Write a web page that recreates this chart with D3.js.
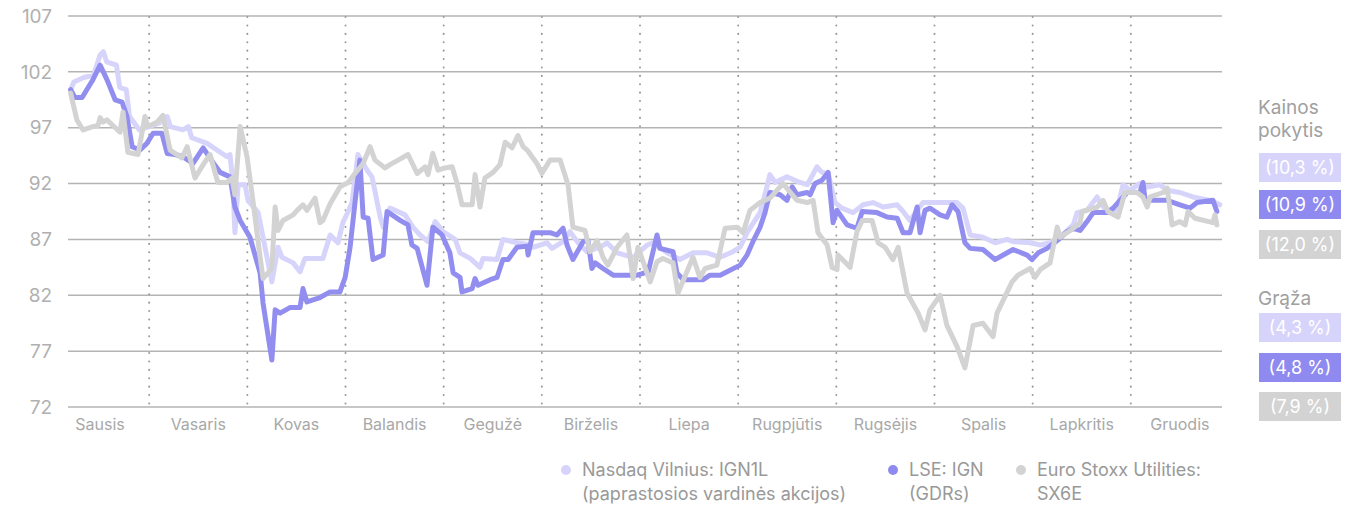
<!DOCTYPE html>
<html>
<head>
<meta charset="utf-8">
<script src="https://cdn.jsdelivr.net/npm/d3@7"></script>
<style>
  body { margin: 0; background: #fff; }
  svg { font-family: Inter, "Noto Sans", sans-serif; }
</style>
</head>
<body>
<svg id="chart" width="1357" height="507"></svg>
<script>
// months and y ticks
var months = ["Sausis","Vasaris","Kovas","Balandis","Gegužė","Birželis","Liepa","Rugpjūtis","Rugsėjis","Spalis","Lapkritis","Gruodis"];
var yTicks = [72, 77, 82, 87, 92, 97, 102, 107];

// [day (30 per month), value]
var nasdaq = [[6,100.4],[7,101.1],[10,101.5],[13,101.7],[15,103.5],[16,103.8],[17,102.9],[20,102.6],[21,100.6],[23,100.4],[24,98.0],[27,96.8],[30,97.1],[33,97.4],[35.5,98.0],[36.5,97.1],[40.3,96.8],[42,97.1],[43,96.1],[47.7,95.6],[50.7,95.0],[53.8,94.4],[54.7,94.6],[55.6,92.0],[56.2,87.6],[57.2,91.9],[59.3,91.9],[60.2,90.5],[63.3,89.4],[67.5,83.2],[69.4,86.3],[70.6,85.4],[74,84.9],[76.1,84.1],[77.6,85.3],[83.1,85.3],[85.3,87.4],[87.7,86.7],[89.2,88.5],[90.5,89.3],[92,90.3],[93.8,94.6],[96.6,93.2],[98.1,92.6],[100.6,89.0],[101.5,88.1],[103.6,89.8],[108.2,89.2],[110.6,88.1],[112.8,87.4],[115.2,86.8],[117.4,88.6],[119.8,87.7],[123.5,87.0],[125,85.8],[128.1,85.3],[131.1,84.5],[132,85.3],[136.3,85.2],[138.1,87.0],[142.4,86.7],[146.4,86.5],[147.3,86.3],[151.6,86.7],[153.1,86.2],[156.5,86.8],[158.6,87.7],[161.1,86.7],[163.8,85.9],[167.8,86.3],[169.9,86.7],[173,85.8],[177.9,85.4],[182.2,86.5],[184,86.7],[188.3,85.8],[192.2,85.2],[196.2,85.8],[200.5,85.8],[204.5,85.4],[208.4,85.9],[210.6,86.3],[212.7,87.6],[215.8,89.0],[216.7,89.4],[218.8,91.7],[219.7,92.8],[221.3,92.1],[224.9,92.6],[228.9,92.1],[231.1,91.9],[234.1,93.5],[235.6,93.0],[237.5,92.9],[239.6,90.3],[241.7,89.8],[245.1,89.4],[248.2,90.1],[251.2,90.3],[254.3,89.9],[258.6,90.1],[260.4,89.5],[262.5,88.7],[264.7,89.6],[266.5,90.3],[276.9,90.3],[278.7,89.8],[280.9,87.4],[284.8,87.2],[288.5,86.7],[292.2,87.0],[294,86.8],[299.2,86.7],[302.3,86.5],[305.3,86.7],[308.4,87.2],[312.4,88.3],[313.6,89.4],[316.6,89.6],[319.7,90.8],[320.6,90.3],[322.7,89.5],[325.8,89.6],[327.6,91.9],[329.8,91.4],[332.8,92.0],[335,91.7],[338.9,91.9],[341.1,91.4],[345,91.2],[349,90.8],[354.2,90.5],[357.2,90.1]];

var lse = [[6,100.4],[7.3,99.7],[9.5,99.7],[12.8,101.3],[15,102.6],[17.1,101.3],[19.6,99.5],[21.7,99.3],[23.2,98.0],[24.8,95.3],[27.2,95.0],[29.3,95.6],[31.2,96.5],[33.9,96.5],[35.5,94.7],[37.9,94.6],[40.3,94.4],[43.4,93.8],[46.5,95.2],[49.5,93.9],[51.7,93.0],[54.7,92.6],[56.2,89.9],[57.8,88.7],[60.8,87.2],[63.9,84.0],[64.8,81.3],[67.5,76.2],[68.5,80.7],[70,80.4],[73,80.9],[76.1,80.9],[77,82.6],[78.2,81.4],[82.2,81.8],[85.3,82.3],[88.3,82.3],[89.9,83.6],[91.4,86.3],[92.9,90.3],[94.4,94.1],[95.4,89.0],[96.9,88.9],[98.4,85.2],[101.5,85.6],[102.7,89.5],[106.7,88.7],[109.1,88.3],[110.3,86.5],[111.9,86.2],[114.9,82.9],[116.7,88.1],[119.5,87.4],[121.9,85.8],[122.9,84.0],[125,83.6],[125.6,82.3],[128.7,82.6],[129.6,83.5],[130.5,82.9],[134.2,83.4],[136.3,83.6],[138.1,85.2],[139.7,85.2],[142.4,86.3],[145.5,86.4],[145.8,85.6],[147.3,87.6],[152.5,87.6],[154.6,87.4],[156.5,88.0],[157.7,86.5],[159.5,85.2],[162.6,86.8],[164.1,86.9],[165.3,84.4],[166.3,84.9],[168.7,84.4],[171.8,83.8],[179.1,83.8],[182.5,84.1],[185.2,87.4],[186.1,86.2],[190.1,85.9],[191.3,84.0],[193.2,83.4],[199.3,83.4],[201.4,83.8],[204.5,83.8],[206.6,84.1],[210.6,84.7],[212.7,85.6],[214.5,86.8],[216.7,88.1],[218.2,89.4],[219.7,91.2],[222.8,91.0],[224.9,90.5],[226.5,91.7],[228,91.0],[231.1,91.2],[232,91.0],[233.5,92.0],[235.6,92.3],[237.5,93.0],[239,88.5],[240.2,89.6],[243.3,88.3],[246.3,88.0],[247.9,89.5],[252.4,89.4],[255.5,89.0],[258.6,88.9],[260.4,87.6],[262.5,87.6],[264.7,89.9],[265.6,87.6],[267.1,89.6],[268.6,89.8],[271.7,89.2],[273.8,89.0],[275.4,90.1],[277.2,89.5],[279.3,86.7],[280.9,86.2],[284.8,86.1],[288.5,85.2],[291,85.6],[294,86.1],[298.3,85.6],[299.8,85.2],[301.7,85.8],[304.4,86.2],[307.5,86.9],[310.5,87.7],[312.4,88.0],[314.5,87.8],[316.6,88.6],[318.5,89.4],[322.7,89.4],[324.6,89.8],[326.7,90.5],[328.9,91.2],[332.8,91.2],[333.7,92.1],[334.4,90.5],[341.1,90.5],[345,90.1],[348.1,89.8],[350.2,90.3],[355.1,90.5],[356.3,89.5]];

var sx6e = [[6,100.1],[7.9,97.7],[9.8,96.8],[12.8,97.1],[14.4,97.2],[15,97.9],[15.9,97.5],[17.1,97.7],[18.9,97.2],[21.1,96.6],[22,98.4],[23.5,94.8],[26.6,94.6],[28.7,98.0],[29.6,97.1],[32.4,97.5],[34.2,98.1],[36.4,95.0],[40,94.3],[41.6,95.3],[44,92.5],[46.5,93.7],[48.6,94.6],[51,92.1],[53.8,92.1],[55.3,92.5],[56.2,91.0],[57.8,97.1],[59.9,94.4],[61.7,90.5],[63.9,85.4],[64.8,83.5],[67.5,84.4],[68.5,89.9],[69.4,87.8],[70.9,88.7],[74,89.2],[75.2,89.6],[77,90.1],[78.2,89.6],[80.7,90.7],[82.2,88.5],[83.1,88.7],[85.3,90.2],[88.3,91.7],[90.8,92.1],[92.9,92.9],[95.4,93.8],[97.5,95.3],[99,94.1],[102.1,93.4],[103.6,93.7],[106.1,94.1],[109.1,94.6],[111.9,92.9],[114.3,93.5],[115.2,92.8],[116.7,94.7],[118.3,93.2],[120.4,93.4],[122.6,93.5],[124.1,92.0],[125.6,90.1],[128.7,90.1],[129.6,92.8],[131.1,89.9],[132.6,92.5],[135.1,93.0],[137.2,93.7],[138.8,95.7],[140.9,95.2],[142.7,96.3],[144.3,95.3],[145.5,95.0],[148.5,93.8],[150,92.9],[152.5,94.1],[155.6,94.1],[158,91.9],[159.5,88.1],[163.2,87.8],[164.7,85.9],[166.9,86.9],[168.7,85.4],[170.2,84.7],[173,86.3],[176,87.4],[177.9,83.5],[179.4,86.3],[183.1,83.2],[185.2,85.0],[187,85.3],[190.1,84.9],[191.6,82.2],[196.2,85.4],[198.3,83.6],[199.9,84.4],[203.5,84.7],[206,88.0],[209.7,88.1],[211.5,87.6],[213.6,89.6],[216.7,90.3],[219.7,90.7],[223.7,92.0],[228,90.5],[231.1,90.3],[232.9,90.5],[234.4,87.6],[237.2,86.5],[238.7,84.5],[240.2,84.3],[240.5,85.6],[244.2,84.5],[246.3,87.7],[247.9,88.7],[250.9,88.7],[252.8,86.7],[254.9,86.3],[257.3,85.2],[258.9,86.3],[261.6,82.2],[265,80.4],[267.1,78.9],[268.6,80.7],[271.7,82.0],[273.8,79.3],[276.9,77.4],[279.3,75.5],[281.8,79.3],[284.8,79.5],[287.9,78.3],[289.1,80.4],[293.7,83.2],[295.5,83.8],[299.2,84.4],[300.7,83.6],[302.3,84.3],[305.3,84.9],[307.5,88.1],[308.4,87.2],[311.5,87.8],[314.5,88.5],[315.1,89.5],[319.7,89.9],[321.5,90.5],[323,89.5],[326.1,89.0],[328.2,91.2],[331.9,91.2],[333.7,90.8],[335,89.9],[335.9,90.8],[339.9,91.2],[341.1,91.6],[342.6,88.3],[345,88.6],[346.6,88.3],[347.5,89.5],[349.6,88.9],[355.1,88.5],[355.7,89.2],[356.3,88.3]];

var priceChange = ["(10,3 %)", "(10,9 %)", "(12,0 %)"];
var dividend = ["(4,3 %)", "(4,8 %)", "(7,9 %)"];
var seriesNames = [["Nasdaq Vilnius: IGN1L", "(paprastosios vardinės akcijos)"], ["LSE: IGN", "(GDRs)"], ["Euro Stoxx Utilities:", "SX6E"]];
var colors = ["#d6d4fb", "#928ef0", "#d3d3d3"];

var svg = d3.select("#chart");
var plotLeft = 68, plotRight = 1222, plotTop = 16, plotBottom = 407;

var x = d3.scaleLinear().domain([0, 360]).range([51, 1229]);
var y = d3.scaleLinear().domain([72, 107]).range([plotBottom, plotTop]);

// grid
svg.append("g").selectAll("line").data(yTicks).join("line")
  .attr("x1", plotLeft).attr("x2", plotRight)
  .attr("y1", d => y(d)).attr("y2", d => y(d))
  .attr("stroke", "#b4b4b4").attr("stroke-width", 1.5);

svg.append("g").selectAll("text").data(yTicks).join("text")
  .attr("x", 52).attr("y", d => y(d)).attr("dy", "0.35em")
  .attr("text-anchor", "end").attr("font-size", 19).attr("fill", "#b0b0b0")
  .text(d => d);

// month separators
svg.append("g").selectAll("line").data(d3.range(1, 12)).join("line")
  .attr("x1", d => x(d * 30)).attr("x2", d => x(d * 30))
  .attr("y1", plotTop + 1).attr("y2", plotBottom)
  .attr("stroke", "#9a9a9a").attr("stroke-width", 2)
  .attr("stroke-linecap", "round").attr("stroke-dasharray", "0.1 8.3");

svg.append("g").selectAll("text").data(months).join("text")
  .attr("x", (d, i) => x(i * 30 + 15)).attr("y", 424).attr("dy", "0.35em")
  .attr("text-anchor", "middle").attr("font-size", 16).attr("fill", "#a8a8a8")
  .text(d => d);

// lines
var line = d3.line().x(d => x(d[0])).y(d => y(d[1]));
[nasdaq, lse, sx6e].forEach(function (s, i) {
  svg.append("path").datum(s)
    .attr("d", line).attr("fill", "none")
    .attr("stroke", colors[i]).attr("stroke-width", 5)
    .attr("stroke-linejoin", "round").attr("stroke-linecap", "round");
});

// right side labels
var side = svg.append("g");
side.append("text").attr("x", 1258).attr("y", 114).attr("font-size", 19).attr("fill", "#a0a0a0").text("Kainos");
side.append("text").attr("x", 1258).attr("y", 137).attr("font-size", 19).attr("fill", "#a0a0a0").text("pokytis");
side.append("text").attr("x", 1258).attr("y", 305).attr("font-size", 19).attr("fill", "#a0a0a0").text("Grąža");

var boxColors = ["#d6d4fb", "#8f8aef", "#d3d3d3"];
function boxes(labels, tops) {
  labels.forEach(function (t, i) {
    side.append("rect").attr("x", 1259).attr("y", tops[i]).attr("width", 82).attr("height", 29)
      .attr("fill", boxColors[i]);
    side.append("text").attr("x", 1300).attr("y", tops[i] + 14.5).attr("dy", "0.35em")
      .attr("text-anchor", "middle").attr("font-size", 18).attr("fill", "#fff").text(t);
  });
}
boxes(priceChange, [153, 190, 230]);
boxes(dividend, [313, 353, 392]);

// legend
var legX = [566, 893, 1021];
var leg = svg.append("g");
seriesNames.forEach(function (n, i) {
  leg.append("circle").attr("cx", legX[i]).attr("cy", 470).attr("r", 5).attr("fill", boxColors[i]);
  leg.append("text").attr("x", legX[i] + 16).attr("y", 470).attr("dy", "0.35em")
    .attr("font-size", 18).attr("fill", "#999").text(n[0]);
  leg.append("text").attr("x", legX[i] + 16).attr("y", 494).attr("dy", "0.35em")
    .attr("font-size", 18).attr("fill", "#999").text(n[1]);
});
</script>
</body>
</html>
